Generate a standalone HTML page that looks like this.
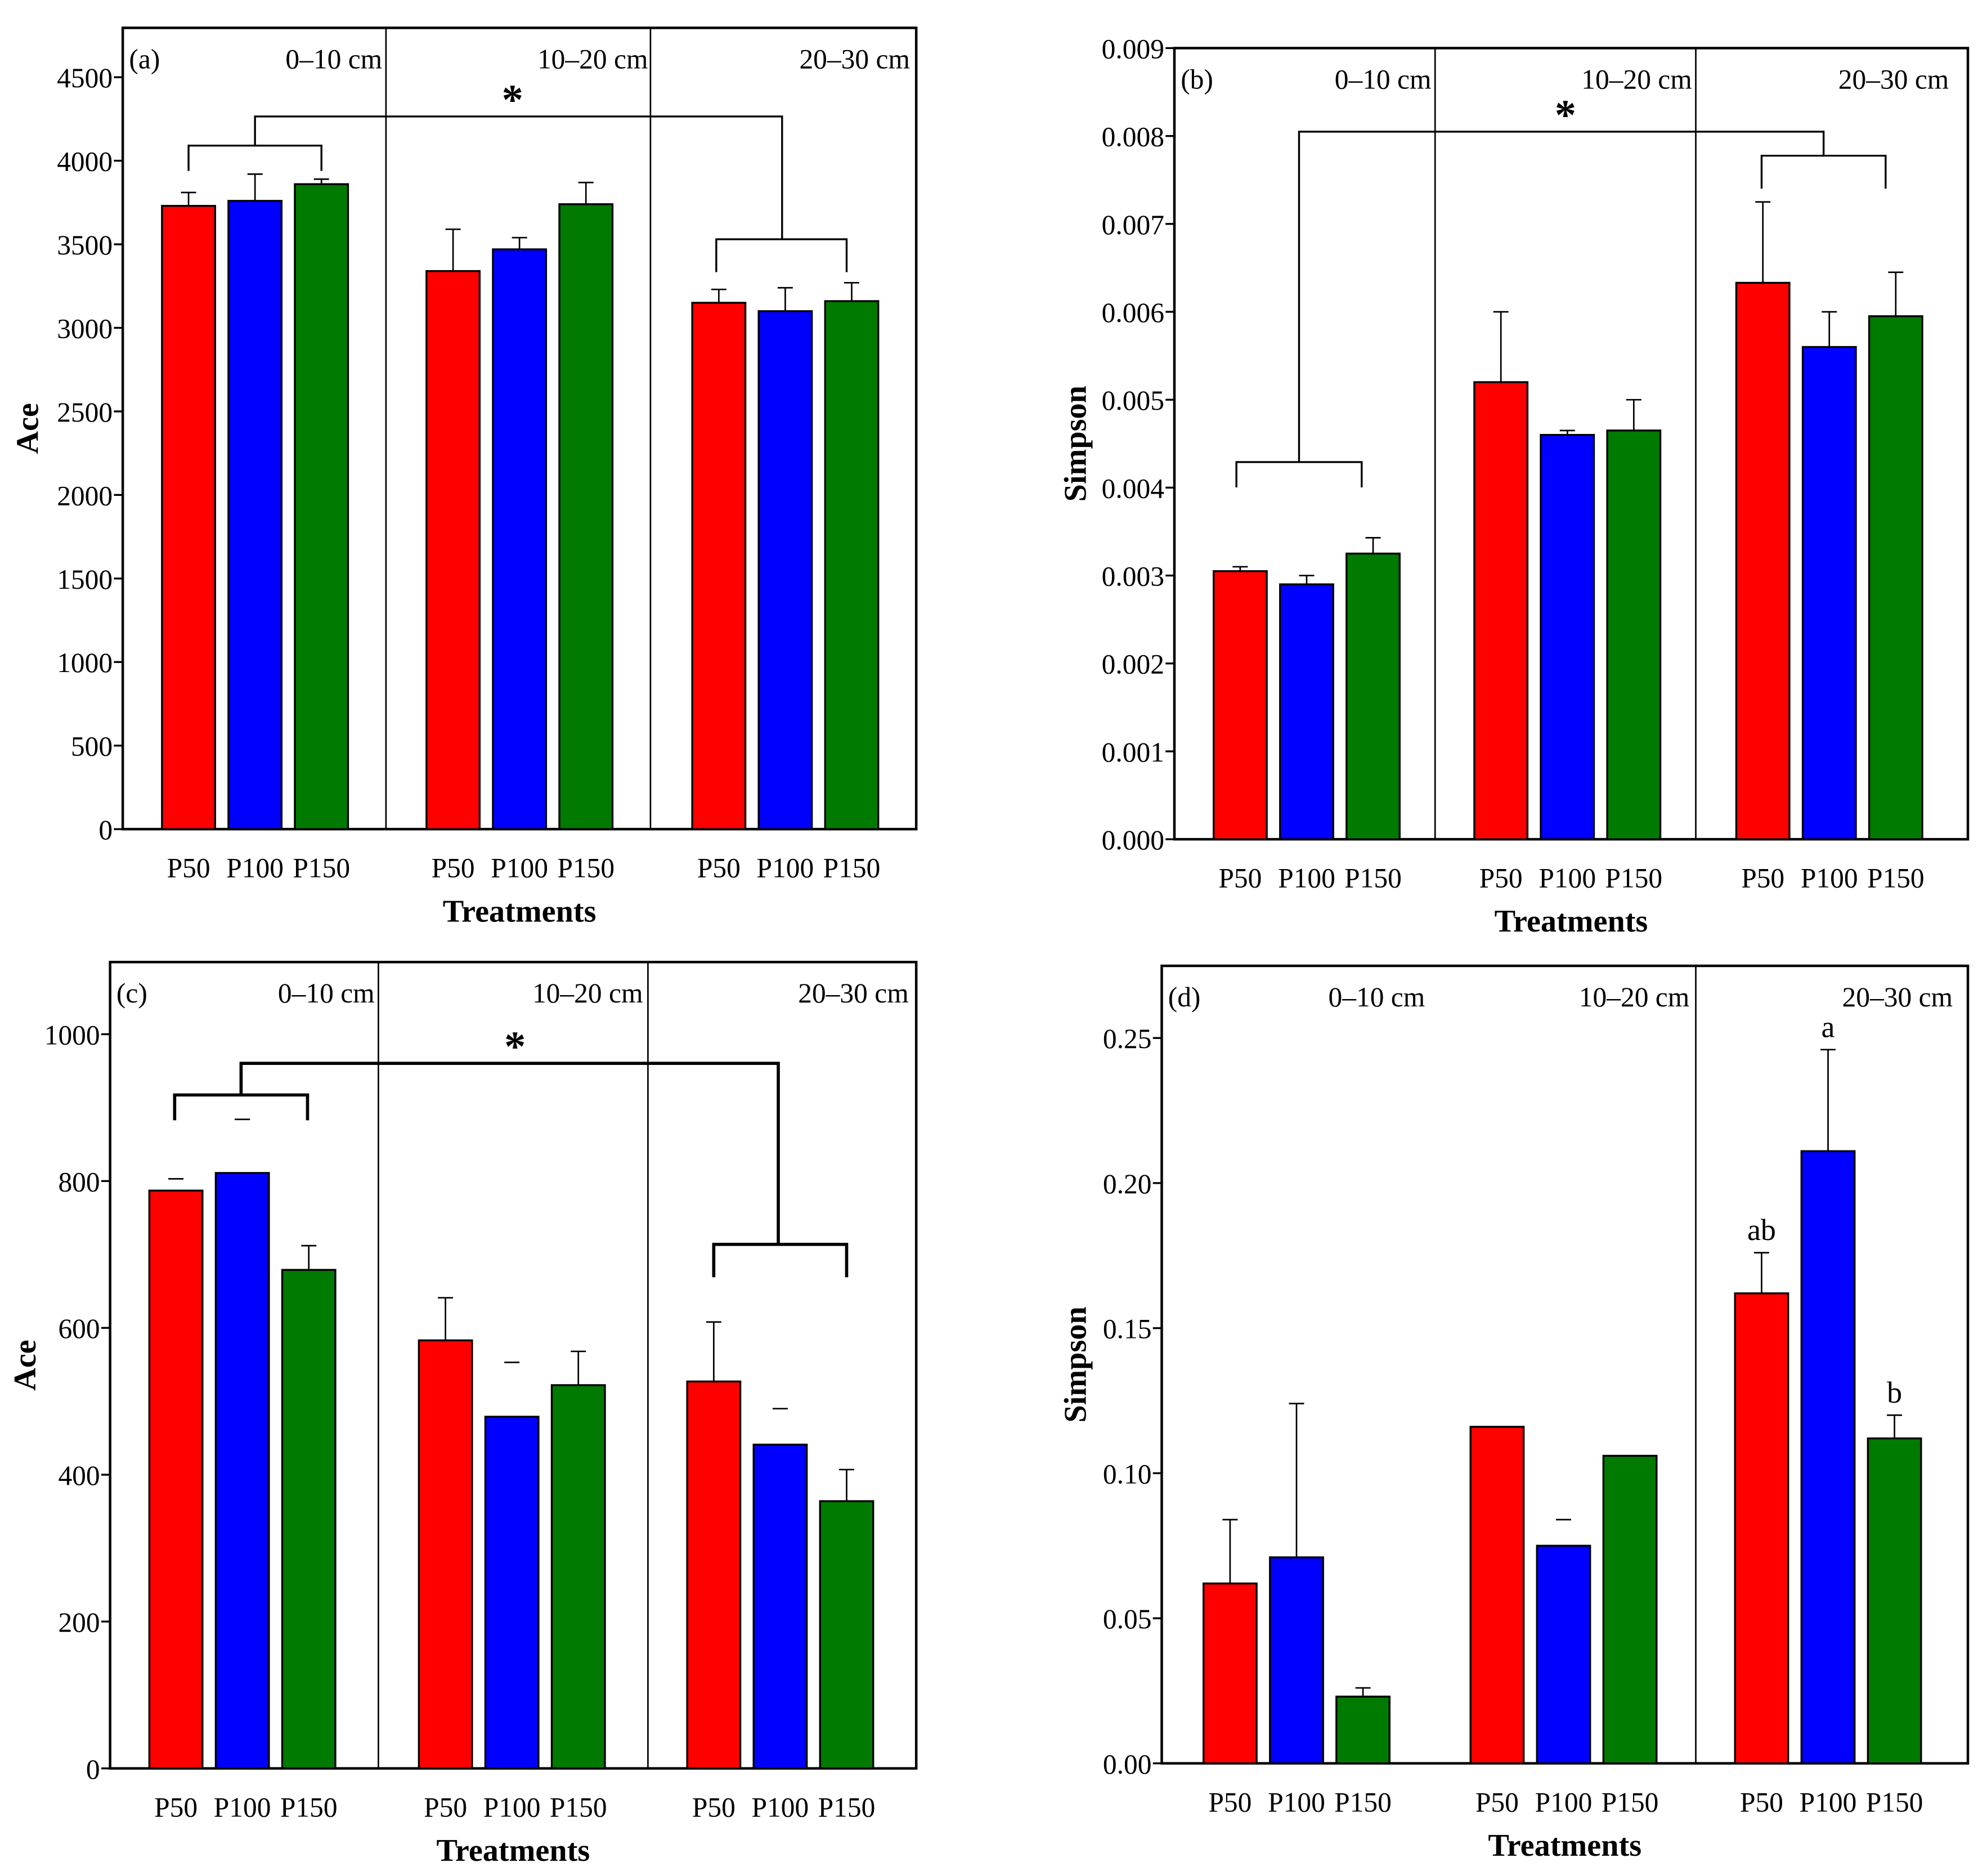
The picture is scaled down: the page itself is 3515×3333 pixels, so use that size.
<!DOCTYPE html>
<html><head><meta charset="utf-8"><style>
html,body{margin:0;padding:0;background:#fff;}
svg{display:block;font-family:"Liberation Serif",serif;}
</style></head><body>
<svg id="chart" width="3515" height="3333" viewBox="0 0 1563 1482" preserveAspectRatio="none" xmlns="http://www.w3.org/2000/svg"></svg>
<script>
// ---- data ----
const categories = ["P50","P100","P150"];
const depths = ["0–10 cm","10–20 cm","20–30 cm"];
const aValues = [3730,3760,3860, 3340,3470,3740, 3150,3100,3160];
const aErrTop = [3810,3920,3890, 3590,3540,3870, 3230,3240,3270];
const aTicks = [0,500,1000,1500,2000,2500,3000,3500,4000,4500];
const bValues = [0.00305,0.0029,0.00325, 0.0052,0.0046,0.00465, 0.00633,0.0056,0.00595];
const bErrTop = [0.0031,0.003,0.00343, 0.006,0.00465,0.005, 0.00725,0.006,0.00645];
const bTicks = [0,0.001,0.002,0.003,0.004,0.005,0.006,0.007,0.008,0.009];
const cValues = [787,811,679, 583,479,522, 527,441,364];
const cErrTop = [803,884,712, 641,553,568, 608,490,407];
const cCapOnly = [true,true,false, false,true,false, false,true,false];
const cTicks = [0,200,400,600,800,1000];
const dValues = [0.062,0.071,0.023, 0.116,0.075,0.106, 0.162,0.211,0.112];
const dErrTop = [0.084,0.124,0.026, 0.116,0.084,0.106, 0.176,0.246,0.120];
const dCapOnly = [false,false,false, false,true,false, false,false,false];
const dTicks = [0,0.05,0.10,0.15,0.20,0.25];
const dLetters = ["","","", "","","", "ab","a","b"];
const colors = ["#ff0000","#0000ff","#007a00"];

const svg = document.getElementById('chart');
const NS = "http://www.w3.org/2000/svg";
function el(tag, attrs, parent){const e=document.createElementNS(NS,tag);for(const k in attrs)e.setAttribute(k,attrs[k]);(parent||svg).appendChild(e);return e;}
function txt(x,y,s,size,anchor,weight,parent){const t=el('text',{x:x,y:y,'font-size':size,'text-anchor':anchor||'middle','font-weight':weight||'normal',fill:'#000'},parent);t.textContent=s;return t;}

function panel(cfg){
  const g=el('g',{});
  
  
  const {x0,x1,y0,y1,vmax,values,err,ticks,fmt,groupX,dividers,label,ylab}=cfg;
  const Y=v=>y1-(v/vmax)*(y1-y0);
  const frame=el('rect',{x:x0,y:y0,width:x1-x0,height:y1-y0,fill:'none',stroke:'#000','stroke-width':2},g);
  
  
  ticks.forEach(t=>{const yy=Y(t);
    el('line',{x1:x0-7,x2:x0,y1:yy,y2:yy,stroke:'#000','stroke-width':1.5},g);
    const l=txt(x0-8,yy+8,fmt(t),22,'end',null,g);
    
    
  });
  dividers.forEach(dx=>el('line',{x1:dx,x2:dx,y1:y0,y2:y1,stroke:'#000','stroke-width':1.2},g));
  const bw=42;
  values.forEach((v,i)=>{
    const gi=Math.floor(i/3), ci=i%3;
    const bx=groupX[gi]+ci*52.5;
    const yt=Y(err[i]), yv=Y(v);
    if(err[i]>v){
      if(!(cfg.capOnly && cfg.capOnly[i]))
        el('line',{x1:bx+bw/2,x2:bx+bw/2,y1:yt,y2:yv,stroke:'#000','stroke-width':1.2},g);
      el('line',{x1:bx+bw/2-6,x2:bx+bw/2+6,y1:yt,y2:yt,stroke:'#000','stroke-width':1.2},g);
    }
    const r=el('rect',{x:bx,y:yv,width:bw,height:y1-yv,fill:colors[ci],stroke:'#000','stroke-width':1.5},g);
    
    
    const xl=txt(bx+bw/2,y1+38,categories[ci],22,'middle',null,g);
    
    
    if(cfg.letters && cfg.letters[i]){const lt=txt(bx+bw/2,yt-10,cfg.letters[i],24,'middle',null,g);
      
      }
  });
  const lb=txt(x0+5,y0+32,label,22,'start',null,g);
  
  
  cfg.depthX.forEach((dx,i)=>{const d=txt(dx,y0+32,depths[i],22,'end',null,g);
    
    });
  const xt=txt((x0+x1)/2,y1+73,'Treatments',25,'middle','bold',g);
  
  
  const yl=txt(0,0,ylab,25,'middle','bold',g);
  yl.setAttribute('transform','translate('+cfg.ylabX+','+((y0+y1)/2)+') rotate(-90)');
  
  
  if(cfg.br){const b=cfg.br, sw=cfg.brw||1.5;
    const p=el('path',{d:`M${b[0]},${b[2]+20}V${b[2]}H${b[1]}V${b[2]+20} M${(b[0]+b[1])/2},${b[2]}V${b[3]}H${b[6]}V${b[5]} M${b[4]},${b[5]+26}V${b[5]}H${b[7]}V${b[5]+26}`,fill:'none',stroke:'#000','stroke-width':sw},g);
    
    
    const s=txt(b[8],b[3]-2,'*',34,'middle','bold',g);
    
    }
}
panel({name:'panel-a-ace',x0:97,x1:724,y0:22,y1:655,vmax:4500*(655-22)/(655-61),values:aValues,err:aErrTop,ticks:aTicks,fmt:t=>String(t),
  groupX:[128,337,547],dividers:[305,514],label:'(a)',ylab:'Ace',ylabX:30,depthX:[302,512,719],
  br:[149,254,115,92,566,189,618,669,405]});
panel({name:'panel-b-simpson',x0:928,x1:1555,y0:38,y1:663,vmax:0.009,values:bValues,err:bErrTop,ticks:bTicks,fmt:t=>t.toFixed(3),
  groupX:[959,1165,1372],dividers:[1134,1340],label:'(b)',ylab:'Simpson',ylabX:858,depthX:[1131,1337,1540],
  br:[977,1076,365,104,1392,123,1441,1490,1237]});
panel({name:'panel-c-ace',x0:87,x1:724,y0:760,y1:1397,vmax:1000*(1397-760)/(1397-817),values:cValues,err:cErrTop,capOnly:cCapOnly,ticks:cTicks,fmt:t=>String(t),
  groupX:[118,331,543],dividers:[299,512],label:'(c)',ylab:'Ace',ylabX:28,depthX:[296,508,718],
  br:[138,243,865,840,564,983,615,669,407],brw:2.5});
panel({name:'panel-d-simpson',x0:918,x1:1555,y0:763,y1:1393,vmax:0.25*(1393-763)/(1393-820),values:dValues,err:dErrTop,capOnly:dCapOnly,ticks:dTicks,fmt:t=>t.toFixed(2),
  groupX:[951,1162,1371],dividers:[1340],label:'(d)',ylab:'Simpson',ylabX:858,depthX:[1126,1335,1543],letters:dLetters});
</script>
</body></html>
